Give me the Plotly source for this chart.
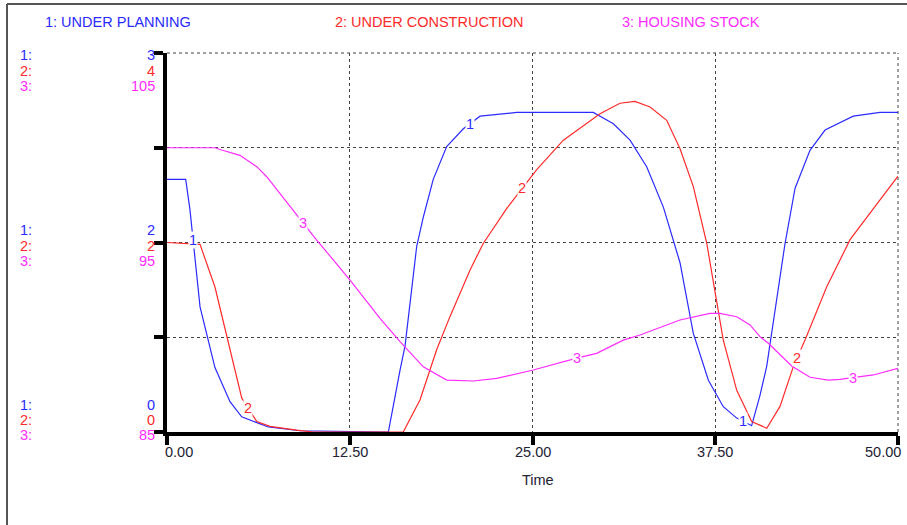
import numpy as np
import plotly.graph_objects as go

# ---------------- data ----------------
series_names = ["1: UNDER PLANNING", "2: UNDER CONSTRUCTION", "3: HOUSING STOCK"]

t_planning = [0, 1.28, 1.57, 1.80, 2.26, 3.28, 4.31, 5.11, 6.93, 9.1, 15.14, 15.94, 16.28,
              17.08, 17.53, 18.21, 19.13, 20.27, 21.41, 23.92, 29.16, 30.08, 30.53, 31.67,
              32.81, 33.95, 35.09, 36.0, 37.03, 38.05, 38.97, 39.99, 40.56, 41.02, 41.70,
              42.27, 42.96, 43.98, 45.01, 46.94, 48.77, 50]
v_planning = [2.0, 2.0, 1.76, 1.52, 0.99, 0.51, 0.24, 0.12, 0.04, 0.01, 0.0, 0.49, 0.68,
              1.47, 1.70, 2.0, 2.26, 2.40, 2.50, 2.53, 2.53, 2.47, 2.44, 2.31,
              2.10, 1.78, 1.34, 0.78, 0.41, 0.20, 0.11, 0.05, 0.29, 0.52, 1.05,
              1.49, 1.93, 2.23, 2.39, 2.50, 2.53, 2.53]

t_construction = [0, 2.26, 3.28, 4.19, 5.11, 6.14, 7.05, 8.87, 10.0, 16.16, 17.31, 18.45,
                  19.36, 20.73, 21.63, 23.24, 24.26, 25.29, 27.11, 28.25, 29.62, 30.98,
                  32.01, 33.04, 34.18, 35.09, 36.0, 36.92, 37.48, 38.05, 38.97, 39.99,
                  41.02, 41.93, 42.84, 43.64, 45.12, 46.72, 48.77, 50]
v_construction = [2.0, 1.98, 1.53, 0.94, 0.36, 0.11, 0.06, 0.02, 0.0, 0.0, 0.34, 0.87,
                  1.22, 1.71, 1.99, 2.36, 2.57, 2.77, 3.08, 3.21, 3.36, 3.47,
                  3.49, 3.43, 3.29, 2.99, 2.59, 1.99, 1.50, 0.97, 0.44, 0.11,
                  0.04, 0.27, 0.69, 0.97, 1.53, 2.03, 2.45, 2.70]

t_stock = [0, 3.28, 3.74, 4.99, 6.14, 6.82, 9.30, 10.24, 12.52, 14.57, 15.94, 17.53, 19.13,
           20.95, 22.55, 25.05, 28.02, 29.39, 31.21, 32.35, 35.09, 37.14, 37.82, 38.97,
           39.88, 40.56, 41.13, 42.73, 43.98, 45.23, 46.03, 48.31, 50]
v_stock = [100, 100, 99.88, 99.6, 99.0, 98.47, 96.03, 95.13, 93.02, 91.0, 89.77, 88.44, 87.74,
           87.69, 87.83, 88.27, 88.9, 89.15, 89.85, 90.12, 90.91, 91.26, 91.26, 91.08,
           90.65, 90.03, 89.68, 88.48, 87.89, 87.74, 87.78, 88.01, 88.36]

# axis scales per series
range_planning = [0, 3]
range_construction = [0, 4]
range_stock = [85, 105]
scale_labels = {"top": ["3", "4", "105"], "mid": ["2", "2", "95"], "bottom": ["0", "0", "85"]}

x_ticks = [0, 12.5, 25, 37.5, 50]
x_tick_labels = ["0.00", "12.50", "25.00", "37.50", "50.00"]
x_title = "Time"

# positions of the small curve labels (time)
label_t_planning = [1.80, 20.7, 39.4]
label_t_construction = [5.54, 24.28, 43.09]
label_t_stock = [9.30, 28.04, 46.92]

# ---------------- styling ----------------
BLUE = "#2b2bff"
RED = "#ff2b2b"
MAGENTA = "#ff2bff"
FONT = "Liberation Sans, Arial, sans-serif"
FS = 14.5

W, H = 907, 525
PL, PR, PT, PB = 167, 898, 53, 432


def xp(px):
    return (px - PL) / (PR - PL)


def yp(py):
    return (PB - py) / (PB - PT)


fig = go.Figure()
fig.add_trace(go.Scatter(x=t_planning, y=v_planning, mode="lines", yaxis="y",
                         line=dict(color=BLUE, width=1.2), hoverinfo="skip"))
fig.add_trace(go.Scatter(x=t_construction, y=v_construction, mode="lines", yaxis="y2",
                         line=dict(color=RED, width=1.2), hoverinfo="skip"))
fig.add_trace(go.Scatter(x=t_stock, y=v_stock, mode="lines", yaxis="y3",
                         line=dict(color=MAGENTA, width=1.2), hoverinfo="skip"))

annotations = []
# curve labels
for ts, tv, vv, col, txt, yref in [
    (label_t_planning, t_planning, v_planning, BLUE, "1", "y"),
    (label_t_construction, t_construction, v_construction, RED, "2", "y2"),
    (label_t_stock, t_stock, v_stock, MAGENTA, "3", "y3"),
]:
    for t in ts:
        annotations.append(dict(x=t, y=float(np.interp(t, tv, vv)), xref="x", yref=yref,
                                text=txt, showarrow=False, bgcolor="white", borderpad=0,
                                font=dict(family=FONT, size=FS, color=col)))

# legend texts on top
for px, txt, col in [(43, series_names[0], BLUE), (333, series_names[1], RED),
                     (620, series_names[2], MAGENTA)]:
    annotations.append(dict(x=xp(px), y=yp(22), xref="paper", yref="paper", text=txt,
                            xanchor="left", yanchor="middle", showarrow=False,
                            font=dict(family=FONT, size=FS, color=col)))

# left scale labels
groups = [("top", [55, 71, 86]), ("mid", [230, 246, 261]), ("bottom", [405, 419.5, 434.5])]
cols = [BLUE, RED, MAGENTA]
for key, ys in groups:
    for i, py in enumerate(ys):
        annotations.append(dict(x=xp(18), y=yp(py), xref="paper", yref="paper",
                                text=f"{i + 1}:", xanchor="left", yanchor="middle",
                                showarrow=False, font=dict(family=FONT, size=FS, color=cols[i])))
        annotations.append(dict(x=xp(157), y=yp(py), xref="paper", yref="paper",
                                text=scale_labels[key][i], xanchor="right", yanchor="middle",
                                showarrow=False, font=dict(family=FONT, size=FS, color=cols[i])))

# x tick labels
for i, (tv, tl) in enumerate(zip(x_ticks, x_tick_labels)):
    anchor = "left" if i == 0 else ("right" if i == len(x_ticks) - 1 else "center")
    shift = -4 if i == 0 else (5 if i == len(x_ticks) - 1 else 0)
    annotations.append(dict(x=tv, y=yp(452), xref="x", yref="paper", text=tl,
                            xanchor=anchor, yanchor="middle", xshift=shift, showarrow=False,
                            font=dict(family=FONT, size=FS, color="#222233")))
annotations.append(dict(x=xp(538), y=yp(480), xref="paper", yref="paper", text=x_title,
                        xanchor="center", yanchor="middle", showarrow=False,
                        font=dict(family=FONT, size=FS, color="#222233")))

grid = dict(showgrid=True, gridcolor="#444444", gridwidth=1, griddash="dot")
dotline = dict(color="#444444", width=1, dash="dot")

fig.update_layout(
    width=W, height=H,
    margin=dict(l=PL, r=W - PR, t=PT, b=H - PB),
    paper_bgcolor="white", plot_bgcolor="white",
    showlegend=False,
    xaxis=dict(range=[0, 50], tickvals=x_ticks, showticklabels=False, ticks="outside",
               ticklen=9, tickwidth=4, tickcolor="black", showline=True, linewidth=4,
               linecolor="black", zeroline=False, **grid),
    yaxis=dict(range=range_planning, tickvals=[0, 0.75, 1.5, 2.25, 3], showticklabels=False,
               ticks="outside", ticklen=9, tickwidth=4, tickcolor="black", showline=True,
               linewidth=4, linecolor="black", zeroline=False, **grid),
    yaxis2=dict(range=range_construction, overlaying="y", visible=False),
    yaxis3=dict(range=range_stock, overlaying="y", visible=False),
    annotations=annotations,
    shapes=[
        # top and right dotted frame of the plot area
        dict(type="line", xref="paper", yref="paper", x0=0, x1=1, y0=1, y1=1, line=dotline,
             layer="below"),
        dict(type="line", xref="paper", yref="paper", x0=1, x1=1, y0=0, y1=1, line=dotline,
             layer="below"),
        # outer window frame
        dict(type="line", xref="paper", yref="paper", x0=xp(7), x1=xp(907), y0=yp(4), y1=yp(4),
             line=dict(color="#555555", width=2)),
        dict(type="line", xref="paper", yref="paper", x0=xp(7), x1=xp(7), y0=yp(4), y1=yp(525),
             line=dict(color="#555555", width=2)),
    ],
)

fig.write_html("out.html")
